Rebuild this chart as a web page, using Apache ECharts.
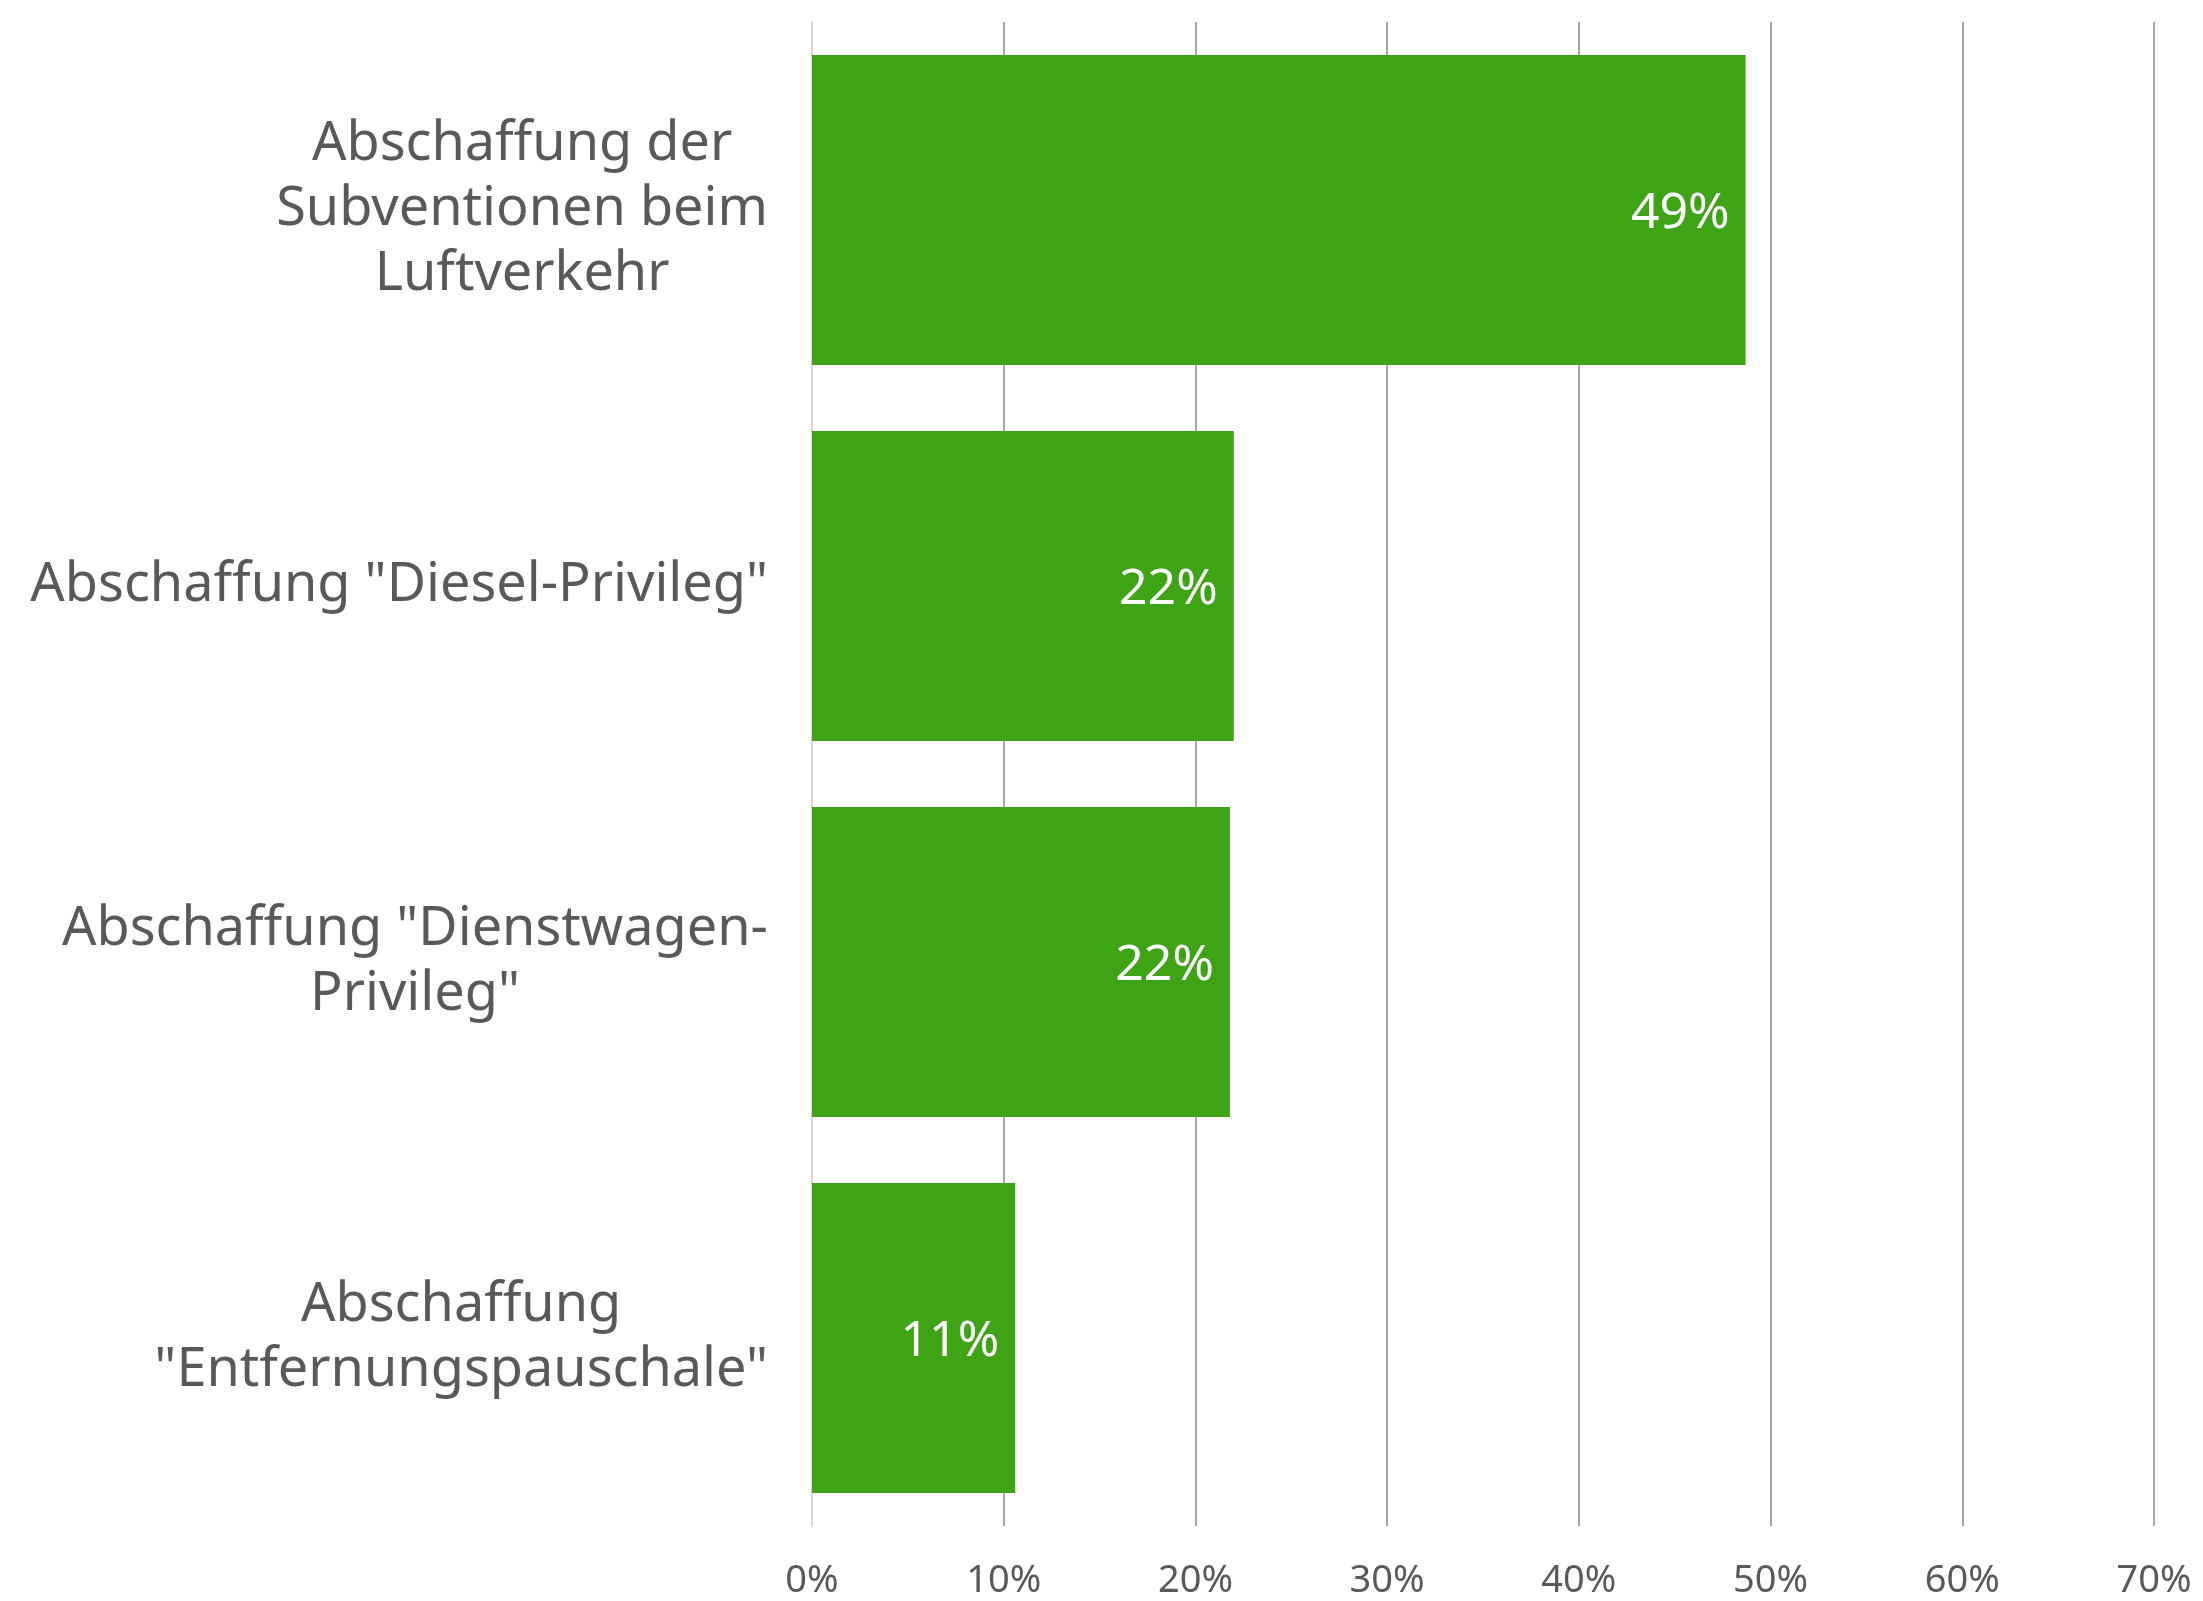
<!DOCTYPE html>
<html>
<head>
<meta charset="utf-8">
<script src="https://cdn.jsdelivr.net/npm/echarts@6/dist/echarts.min.js"></script>
<style>
  html, body { margin: 0; padding: 0; background: #fff; }
  #chart { width: 2203px; height: 1601px; }
</style>
</head>
<body>
<div id="chart"></div>
<script>
// Kategorien (von oben nach unten)
const categories = [
  'Abschaffung der\nSubventionen beim\nLuftverkehr',
  'Abschaffung "Diesel-Privileg"',
  'Abschaffung "Dienstwagen-\nPrivileg"',
  'Abschaffung\n"Entfernungspauschale"'
]
// Anteile in Prozent
const values = [48.7, 22.0, 21.8, 10.6]
// Achse
const axisMin = 0
const axisMax = 70
const axisStep = 10

const textColor = '#595959'
const fontFamily = '"Noto Sans", sans-serif'

const chart = echarts.init(document.getElementById('chart'))

const option = {
  backgroundColor: '#fff',
  animation: false,
  grid: {
    left: 812,
    right: 49,
    top: 22,
    bottom: 75,
    containLabel: false
  },
  xAxis: {
    type: 'value',
    min: axisMin,
    max: axisMax,
    interval: axisStep,
    axisLine: { show: false },
    axisTick: { show: false },
    splitLine: { lineStyle: { color: '#a6a6a6', width: 2 } },
    axisLabel: {
      formatter: '{value}%',
      color: textColor,
      fontFamily: fontFamily,
      fontSize: 38,
      margin: 36
    }
  },
  yAxis: {
    type: 'category',
    inverse: true,
    data: categories,
    axisLine: { show: true, lineStyle: { color: '#d9d9d9', width: 2 } },
    axisTick: { show: false },
    axisLabel: {
      margin: 44,
      align: 'right',
      formatter: v => v.split('\n').map(l => '{c|' + l + '}').join('\n'),
      rich: {
        c: {
          align: 'center',
          color: textColor,
          fontFamily: fontFamily,
          fontSize: 54,
          lineHeight: 65
        }
      }
    }
  },
  series: [
    {
      type: 'bar',
      data: values,
      barCategoryGap: '17.5%',
      itemStyle: { color: '#3ea416' },
      label: {
        show: true,
        position: 'insideRight',
        distance: 16,
        offset: [0, 4],
        color: '#fff',
        fontFamily: fontFamily,
        fontSize: 50,
        formatter: p => Math.round(p.value) + '%'
      }
    }
  ]
}

chart.setOption(option)
</script>
</body>
</html>
